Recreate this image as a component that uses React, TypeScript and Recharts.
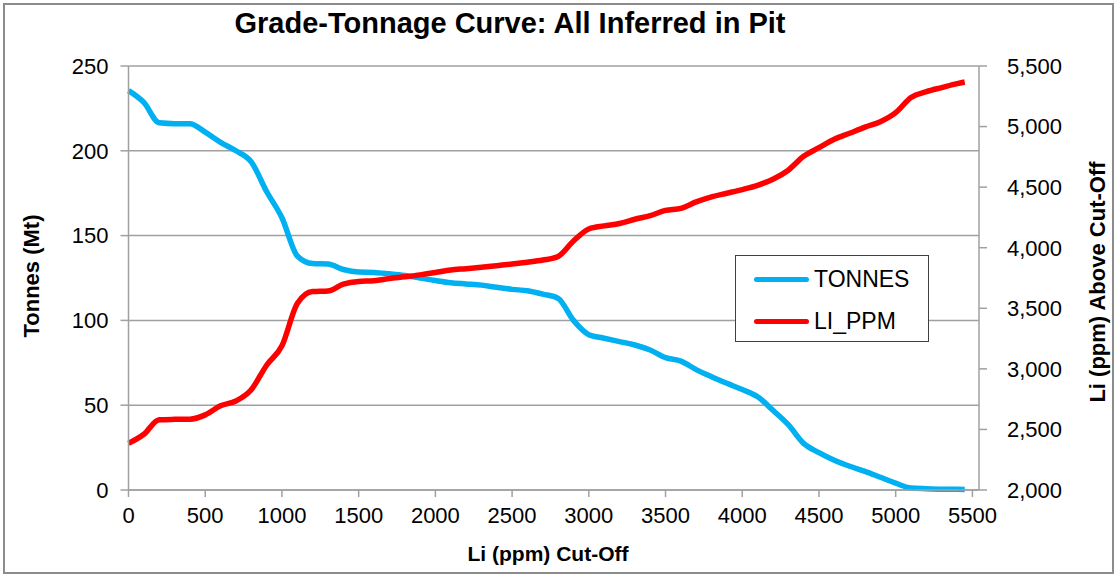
import { CartesianGrid, Line, LineChart, XAxis, YAxis } from 'recharts';

// Cut-off grade (Li ppm) on the x axis
const cutoff = [
    0, 100, 200, 300, 400, 500, 600, 700, 800, 900,
    1000, 1100, 1200, 1300, 1400, 1500, 1600, 1700, 1800, 1900,
    2000, 2100, 2200, 2300, 2400, 2500, 2600, 2700, 2800, 2900,
    3000, 3100, 3200, 3300, 3400, 3500, 3600, 3700, 3800, 3900,
    4000, 4100, 4200, 4300, 4400, 4500, 4600, 4700, 4800, 4900,
    5000, 5100, 5200, 5300, 5400, 5450,
];

// Tonnes above cut-off (Mt)
const tonnes = [
    235.5, 228.5, 216.5, 216, 216, 211, 205, 200, 193.5, 176,
    160.5, 138, 133.5, 133.2, 130, 128.5, 128.3, 127.5, 126.5, 125,
    123.5, 122.2, 121.5, 120.8, 119.5, 118.3, 117.5, 115.5, 113, 100,
    91.6, 89.5, 87.5, 85.5, 82.5, 78, 76, 71, 66.8, 62.9,
    59.2, 55, 47, 38.5, 27.5, 22, 17.5, 14, 11, 7.5,
    4, 1.2, 0.8, 0.5, 0.4, 0.3,
];

// Average Li grade above cut-off (ppm)
const liPpm = [
    2385, 2460, 2580, 2583, 2584, 2620, 2695, 2735, 2828, 3030,
    3190, 3540, 3638, 3643, 3700, 3722, 3727, 3745, 3760, 3776,
    3795, 3816, 3827, 3839, 3852, 3865, 3880, 3898, 3928, 4055,
    4155, 4180, 4200, 4235, 4265, 4308, 4325, 4378, 4420, 4450,
    4480, 4515, 4565, 4640, 4755, 4826, 4895, 4945, 4995, 5040,
    5115, 5240, 5288, 5322, 5355, 5368,
];

const xTicks = [0, 500, 1000, 1500, 2000, 2500, 3000, 3500, 4000, 4500, 5000, 5500];
const leftTicks = [0, 50, 100, 150, 200, 250];
const rightTicks = [2000, 2500, 3000, 3500, 4000, 4500, 5000, 5500];

const data = cutoff.map((c, i) => ({ cutoff: c, TONNES: tonnes[i], LI_PPM: liPpm[i] }));

const BLUE = '#00b0f0';
const RED = '#ff0000';
const AXIS = '#a0a0a0';
const FONT = '"Liberation Sans", Arial, sans-serif';

const tickStyle = { fontSize: 22, fill: '#000', fontFamily: FONT };

const legendItems = [
    { name: 'TONNES', color: BLUE },
    { name: 'LI_PPM', color: RED },
];

// Legend box sits over the plot, right of centre
const LegendBox = () => (
    <div
        style={{
            position: 'absolute',
            left: 735,
            top: 255,
            width: 194,
            height: 87,
            border: '1.5px solid #404040',
            background: '#fff',
            boxSizing: 'border-box',
            fontFamily: FONT,
            fontSize: 23,
            padding: '2px 0 0 18px',
        }}
    >
        {legendItems.map(item => (
            <div key={item.name} style={{ display: 'flex', alignItems: 'center', height: 42 }}>
                <span style={{ width: 55, height: 5, borderRadius: 3, background: item.color, marginRight: 5 }} />
                <span>{item.name}</span>
            </div>
        ))}
    </div>
);

const App = () => {
    return (
        <div style={{ position: 'absolute', left: 0, top: 0, width: 1117, height: 577, background: '#fff' }}>
            <div
                style={{
                    position: 'absolute',
                    left: 3,
                    top: 3,
                    width: 1111,
                    height: 571,
                    border: '2px solid #8c8c8c',
                    boxSizing: 'border-box',
                }}
            />
            <LineChart
                width={1117}
                height={577}
                data={data}
                margin={{ top: 66, right: 0, bottom: 0, left: 0 }}
                style={{ position: 'absolute', left: 0, top: 0 }}
            >
                <CartesianGrid yAxisId="left" vertical={false} stroke={AXIS} strokeWidth={1.5} />
                <XAxis
                    dataKey="cutoff"
                    type="number"
                    domain={[0, 5543]}
                    ticks={xTicks}
                    interval={0}
                    height={87}
                    tickSize={7}
                    tickMargin={10}
                    stroke={AXIS}
                    strokeWidth={1.5}
                    tick={tickStyle}
                />
                <YAxis
                    yAxisId="left"
                    domain={[0, 250]}
                    ticks={leftTicks}
                    width={128.5}
                    tickSize={8}
                    tickMargin={12}
                    stroke={AXIS}
                    strokeWidth={1.5}
                    tick={tickStyle}
                />
                <YAxis
                    yAxisId="right"
                    orientation="right"
                    domain={[2000, 5500]}
                    ticks={rightTicks}
                    width={138}
                    tickSize={8}
                    tickMargin={20}
                    stroke={AXIS}
                    strokeWidth={1.5}
                    tick={{ ...tickStyle, textAnchor: 'start' }}
                    tickFormatter={(v: number) => v.toLocaleString('en-US')}
                />
                <Line
                    yAxisId="left"
                    type="monotone"
                    dataKey="TONNES"
                    stroke={BLUE}
                    strokeWidth={5.5}
                    dot={false}
                    isAnimationActive={false}
                />
                <Line
                    yAxisId="right"
                    type="monotone"
                    dataKey="LI_PPM"
                    stroke={RED}
                    strokeWidth={5.5}
                    dot={false}
                    isAnimationActive={false}
                />
            </LineChart>
            <LegendBox />
            <svg
                width={1117}
                height={577}
                style={{ position: 'absolute', left: 0, top: 0, pointerEvents: 'none' }}
                fontFamily={FONT}
                fontWeight="bold"
            >
                <text x={510} y={33} textAnchor="middle" fontSize={29}>
                    Grade-Tonnage Curve: All Inferred in Pit
                </text>
                <text x={548} y={561} textAnchor="middle" fontSize={21}>
                    Li (ppm) Cut-Off
                </text>
                <text x={39} y={276} textAnchor="middle" fontSize={22} transform="rotate(-90 39 276)">
                    Tonnes (Mt)
                </text>
                <text x={1105} y={282} textAnchor="middle" fontSize={22} transform="rotate(-90 1105 282)">
                    Li (ppm) Above Cut-Off
                </text>
            </svg>
        </div>
    );
};

export default App;
